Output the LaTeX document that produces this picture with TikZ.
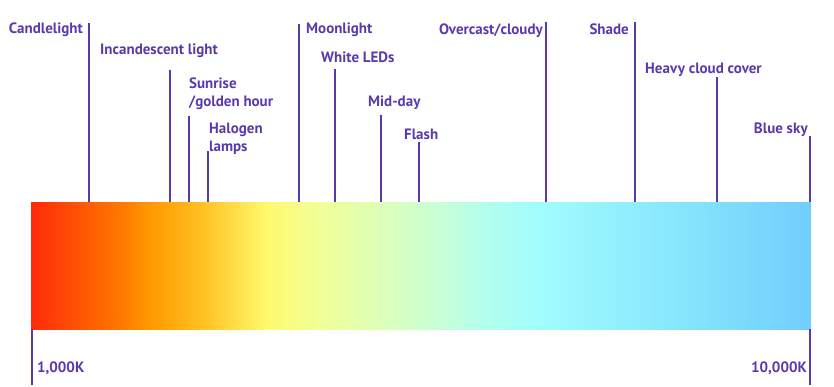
\documentclass[tikz,border=0pt]{standalone}
\usepackage{fontspec}
\setmainfont{PT Sans}
\definecolor{ink}{HTML}{5A3AAA}
\definecolor{k1}{HTML}{FF2A0A}
\definecolor{k2}{HTML}{FF7800}
\definecolor{k3}{HTML}{FF9A00}
\definecolor{k4}{HTML}{FFC020}
\definecolor{k5}{HTML}{FFFA70}
\definecolor{k6}{HTML}{F0FF98}
\definecolor{k7}{HTML}{D4FFC8}
\definecolor{k8}{HTML}{B4FFEC}
\definecolor{k9}{HTML}{A0FCFF}
\definecolor{k10}{HTML}{84E4FC}
\definecolor{k11}{HTML}{72CDFC}
\pgfdeclarehorizontalshading{kelvin}{100bp}{color(0bp)=(k1); color(25bp)=(k1);
  color(30.71bp)=(k2); color(32.64bp)=(k3); color(35.85bp)=(k4);
  color(40.21bp)=(k5); color(43.55bp)=(k6); color(49.33bp)=(k7);
  color(53.82bp)=(k8); color(57.96bp)=(k9); color(67.30bp)=(k10);
  color(75bp)=(k11); color(100bp)=(k11)}
\tikzset{
  lbl/.style={font=\bfseries\fontsize{15}{18}\selectfont, text=ink,
    inner sep=0pt, align=left},
  tick/.style={draw=ink, line width=1.1pt},
}
\begin{document}
\begin{tikzpicture}[x=1pt,y=-1pt]
    \useasboundingbox (0,0) rectangle (834,386);

    % colour temperature bar
    \node[shading=kelvin, minimum width=779.5pt, minimum height=127pt,
        inner sep=0pt, anchor=north west] (bar) at (31,202) {};

    % tops of the ticks
    \coordinate (candle) at (89,23);
    \coordinate (incand) at (170,70);
    \coordinate (sunrise) at (189,116);
    \coordinate (halogen) at (208,151);
    \coordinate (moon) at (299,24);
    \coordinate (leds) at (335,69);
    \coordinate (midday) at (381,115);
    \coordinate (flash) at (419,142);
    \coordinate (overcast) at (546,22);
    \coordinate (shade) at (635,22);
    \coordinate (heavy) at (717,77);
    \coordinate (bluesky) at (810,136);

    \foreach \c in {candle,incand,sunrise,halogen,moon,leds,midday,flash,
                    overcast,shade,heavy,bluesky}
        \draw[tick] (\c) -- (\c |- bar.north);

    % labels (base = last line)
    \node[lbl, anchor=base east] (candleT) at (83,33) {Candlelight};
    \node[lbl, anchor=base west] (incandT) at (100,54) {Incandescent light};
    \node[lbl, anchor=base west] (sunriseT) at (189,106) {Sunrise\\/golden hour};
    \node[lbl, anchor=base west] (halogenT) at (209,151) {Halogen\\lamps};
    \node[lbl, anchor=base west] (moonT) at (306,33) {Moonlight};
    \node[lbl, anchor=base west] (ledsT) at (321,62) {White LEDs};
    \node[lbl, anchor=base west] (middayT) at (368,106) {Mid-day};
    \node[lbl, anchor=base west] (flashT) at (404,139) {Flash};
    \node[lbl, anchor=base east] (overcastT) at (543,34) {Overcast/cloudy};
    \node[lbl, anchor=base east] (shadeT) at (629,34) {Shade};
    \node[lbl, anchor=base west] (heavyT) at (645,73) {Heavy cloud cover};
    \node[lbl, anchor=base east] (blueskyT) at (808,133) {Blue sky};

    % scale ends
    \coordinate (kmin) at (32,385);
    \coordinate (kmax) at (810,385);
    \draw[tick] (kmin |- bar.south) -- (kmin);
    \draw[tick] (kmax |- bar.south) -- (kmax);
    \node[lbl, anchor=base west] (kminT) at (37,372) {1,000K};
    \node[lbl, anchor=base east] (kmaxT) at (807,372) {10,000K};
\end{tikzpicture}
\end{document}
